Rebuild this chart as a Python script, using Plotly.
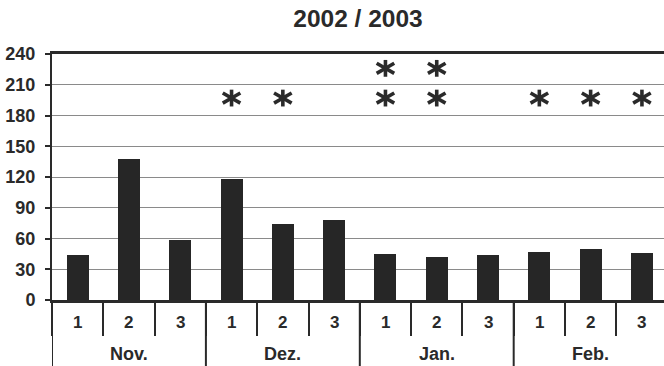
import plotly.graph_objects as go

# Ten-day periods (Dekaden) per month, winter 2002/2003
months = ["Nov.", "Dez.", "Jan.", "Feb."]
decades = ["1", "2", "3"]
values = [44, 138, 59, 118, 74, 78, 45, 42, 44, 47, 50, 46]

# Significance marks: category index and row level on the value axis
sig_lower_idx = [3, 4, 6, 7, 9, 10, 11]
sig_upper_idx = [6, 7]
sig_lower_level = 197
sig_upper_level = 226

y_ticks = [0, 30, 60, 90, 120, 150, 180, 210, 240]

FONT = "Liberation Sans, Arial, sans-serif"
INK = "#2a2a2a"
BAR = "#262626"

n = len(months) * len(decades)
x_idx = list(range(n))

fig = go.Figure()
fig.add_trace(go.Bar(
    x=x_idx, y=values, width=0.43,
    marker=dict(color=BAR, line=dict(width=0)),
    hoverinfo="y",
))

# Six-armed star built from a vertical stroke and two strokes tilted by 30 deg
sig_x = sig_lower_idx + sig_upper_idx
sig_y = [sig_lower_level] * len(sig_lower_idx) + [sig_upper_level] * len(sig_upper_idx)
for symbol, size, angle in (("line-ns-open", 12, 0),
                            ("line-ew-open", 14.5, 30),
                            ("line-ew-open", 14.5, -30)):
    fig.add_trace(go.Scatter(
        x=sig_x, y=sig_y, mode="markers",
        marker=dict(symbol=symbol, size=size, angle=angle,
                    color=INK, line=dict(color=INK, width=3.6)),
        hoverinfo="skip",
    ))

# Decade labels under each bar and month labels under each group
annotations = []
for i in x_idx:
    annotations.append(dict(
        x=i, y=0, xref="x", yref="paper", text=decades[i % 3],
        showarrow=False, yanchor="middle", yshift=-22,
        font=dict(family=FONT, size=17, color=INK, weight="bold"),
    ))
for m, name in enumerate(months):
    annotations.append(dict(
        x=m * 3 + 1, y=0, xref="x", yref="paper", text=name,
        showarrow=False, yanchor="middle", yshift=-54,
        font=dict(family=FONT, size=18, color=INK, weight="bold"),
    ))

# Full-height dividers between months
shapes = []
for m in range(len(months) + 1):
    xb = m * 3 - 0.5
    shapes.append(dict(
        type="line", xref="x", yref="paper", x0=xb, x1=xb, y0=0, y1=-0.3,
        line=dict(color=INK, width=2),
    ))

fig.update_layout(
    width=664, height=366,
    margin=dict(l=52, r=0, t=54, b=66),
    paper_bgcolor="white", plot_bgcolor="white",
    showlegend=False,
    bargap=0,
    title=dict(
        text="2002 / 2003", x=0.5, xref="paper", xanchor="center",
        y=1 - 18 / 366, yref="container", yanchor="middle",
        font=dict(family=FONT, size=24.5, color=INK, weight="bold"),
    ),
    xaxis=dict(
        type="linear", range=[-0.5, 11.43],
        tickmode="array", tickvals=[i - 0.5 for i in range(n + 1)],
        ticktext=[""] * (n + 1),
        ticks="outside", ticklen=33, tickwidth=2, tickcolor=INK,
        showticklabels=False, showgrid=False, zeroline=False,
        showline=True, linecolor=INK, linewidth=2.5, mirror=True,
    ),
    yaxis=dict(
        range=[0, 240], tickvals=y_ticks,
        ticks="outside", ticklen=5, tickwidth=2, tickcolor=INK,
        tickfont=dict(family=FONT, size=18, color=INK, weight="bold"),
        ticklabelstandoff=6,
        showgrid=True, gridcolor="#8a8a8a", gridwidth=1,
        zeroline=False,
        showline=True, linecolor=INK, linewidth=2,
    ),
    annotations=annotations,
    shapes=shapes,
)

fig.write_html("out.html")
